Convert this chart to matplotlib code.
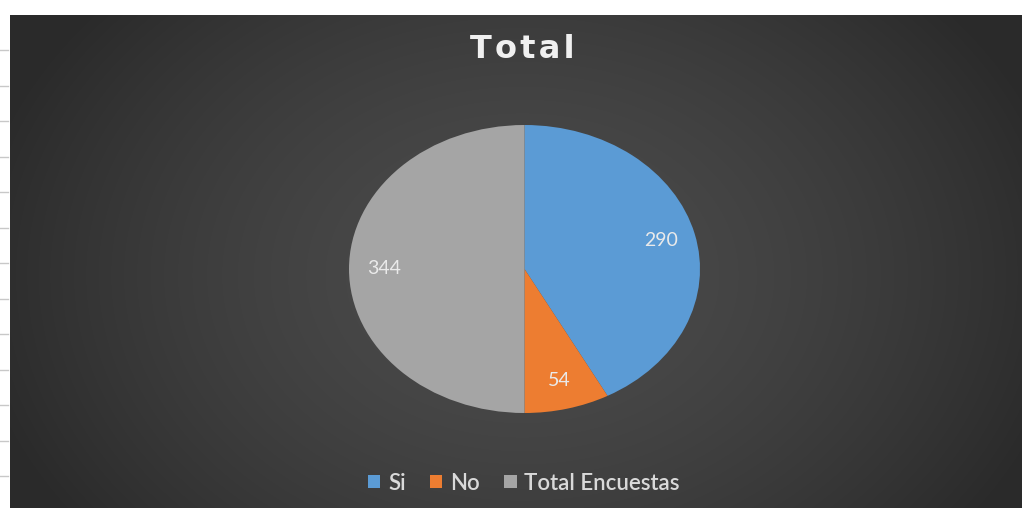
import matplotlib.pyplot as plt
import numpy as np

categorias = ['Si', 'No', 'Total Encuestas']
valores = [290, 54, 344]
colores = ['#5B9BD5', '#ED7D31', '#A5A5A5']
titulo = 'Total'

W, H = 1022, 508
fig = plt.figure(figsize=(W / 100, H / 100), dpi=100)
fig.patch.set_facecolor('white')

# dark chart area with a soft radial gradient
bg = fig.add_axes([10 / W, 0, 1 - 10 / W, 1 - 15 / H])
yy, xx = np.mgrid[0:493, 0:1012]
cx, cy = 512, 260
d = np.sqrt(((xx - cx) / 560.0) ** 2 + ((yy - cy) / 420.0) ** 2)
d = np.clip(d, 0, 1)
shade = 0.295 - 0.13 * d ** 1.6
img = np.dstack([shade, shade, shade])
bg.imshow(img, aspect='auto', interpolation='bilinear')
bg.set_axis_off()

# spreadsheet row marks on the white strip
for y in np.arange(50, 480, 35.5):
    fig.add_artist(plt.Line2D([0, 8 / W], [1 - y / H, 1 - y / H],
                              color='#c8c8c8', lw=1))

# pie, stretched into an ellipse
ax = fig.add_axes([349 / W, 95 / H, 351 / W, 288 / H])
total = sum(valores)
wedges, _, autotexts = ax.pie(
    valores, colors=colores, startangle=90, counterclock=False,
    autopct=lambda p: f'{p * total / 100:.0f}', pctdistance=0.8,
    wedgeprops=dict(edgecolor='none'),
    textprops=dict(color='#eaeaea', fontsize=14, family='Lato'))
ax.set_aspect('auto')
ax.set_xlim(-1, 1)
ax.set_ylim(-1, 1)
ax.set_axis_off()

# spaced-out title letters
fig.text(522 / W, 1 - 50 / H, '\u200a'.join(titulo), ha='center', va='center',
         fontsize=23, fontweight='bold', color='#f0f0f0', family='DejaVu Sans')

leg = fig.legend(wedges, categorias, loc='center', bbox_to_anchor=(524 / W, 1 - 483 / H),
                 ncol=3, frameon=False, handlelength=0.55, handleheight=0.55,
                 handletextpad=0.35, columnspacing=1.1,
                 prop=dict(family='Lato', size=16, weight='semibold'))
for t in leg.get_texts():
    t.set_color('#d9d9d9')

fig.savefig('out.png', dpi=100)
